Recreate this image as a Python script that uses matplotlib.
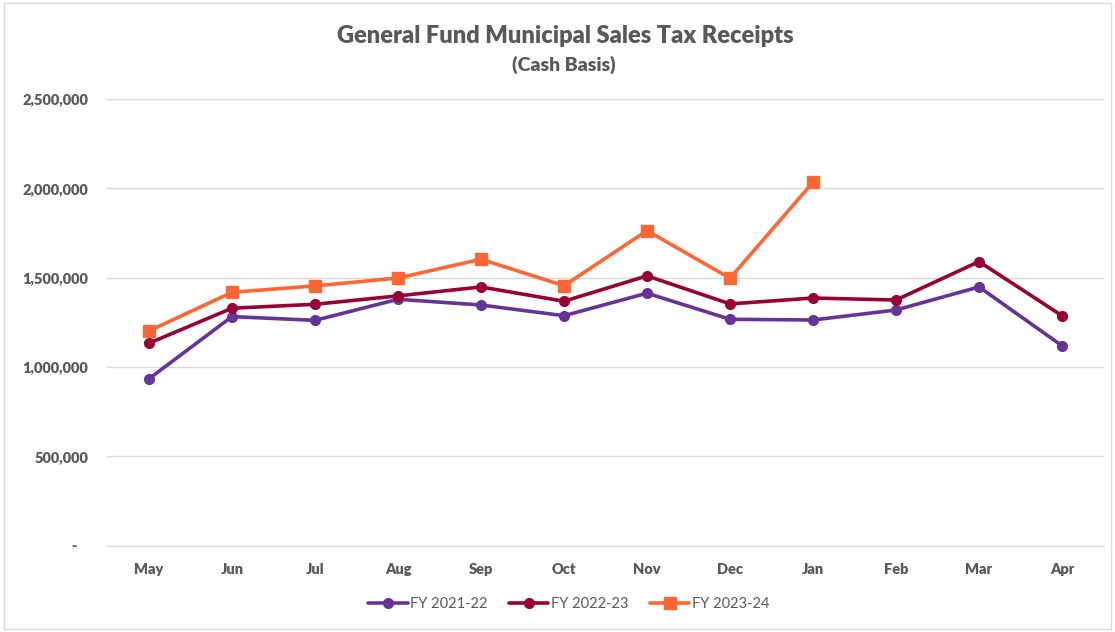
"""General Fund municipal sales tax receipts line chart."""

import matplotlib
matplotlib.use("Agg")
import matplotlib.pyplot as plt
from matplotlib.patches import Rectangle
from matplotlib.ticker import FuncFormatter

months = ["May", "Jun", "Jul", "Aug", "Sep", "Oct", "Nov", "Dec", "Jan", "Feb", "Mar", "Apr"]

fy_2021_22 = [934000, 1282000, 1261000, 1379000, 1347000, 1287000,
              1413000, 1267000, 1263000, 1319000, 1448000, 1119000]
fy_2022_23 = [1133000, 1329000, 1351000, 1398000, 1448000, 1368000,
              1510000, 1353000, 1386000, 1375000, 1590000, 1287000]
fy_2023_24 = [1202000, 1418000, 1454000, 1498000, 1603000, 1455000,
              1763000, 1497000, 2034000]

series = [
    ("FY 2021-22", fy_2021_22, "#663399", "o", 7),
    ("FY 2022-23", fy_2022_23, "#990033", "o", 7),
    ("FY 2023-24", fy_2023_24, "#FF6633", "s", 8.5),
]

text_color = "#595959"
plt.rcParams["font.family"] = ["Lato", "DejaVu Sans"]

fig = plt.figure(figsize=(11.15, 6.32), dpi=100)
ax = fig.add_axes([0.0964, 0.1367, 0.8933, 0.7066])

x = list(range(len(months)))
for label, values, color, marker, ms in series:
    ax.plot(x[:len(values)], values, color=color, linewidth=2.6, marker=marker,
            markersize=ms, label=label, solid_capstyle="round")

ax.set_xlim(-0.5, len(months) - 0.5)
ax.set_ylim(0, 2500000)
ax.set_yticks(range(0, 2500001, 500000))
ax.yaxis.set_major_formatter(FuncFormatter(lambda v, _: "-   " if v == 0 else f"{int(v):,}"))
ax.set_xticks(x)
ax.set_xticklabels(months)
ax.grid(axis="y", color="#D9D9D9", linewidth=1)
ax.set_axisbelow(True)
for side in ["top", "right", "left"]:
    ax.spines[side].set_visible(False)
ax.spines["bottom"].set_color("#D9D9D9")
ax.tick_params(length=0, colors=text_color, labelsize=10.5, pad=12.5)
ax.tick_params(axis="y", pad=14)
for lbl in ax.get_xticklabels() + ax.get_yticklabels():
    lbl.set_fontweight("heavy")

fig.text(0.507, 0.943, "General Fund Municipal Sales Tax Receipts", ha="center", va="center",
         fontsize=17, fontweight="heavy", color=text_color)
fig.text(0.506, 0.898, "(Cash Basis)", ha="center", va="center",
         fontsize=14, fontweight="heavy", color=text_color)

leg = fig.legend(loc="center", bbox_to_anchor=(0.51, 0.044), ncol=3, frameon=False,
                 fontsize=10.5, handlelength=2.7, handletextpad=0.15, columnspacing=1.5)
for t in leg.get_texts():
    t.set_color(text_color)

fig.patches.append(Rectangle((0.004, 0.004), 0.992, 0.992, transform=fig.transFigure,
                             fill=False, edgecolor="#D9D9D9", linewidth=1))

plt.savefig("out.png", dpi=100)
plt.close()
